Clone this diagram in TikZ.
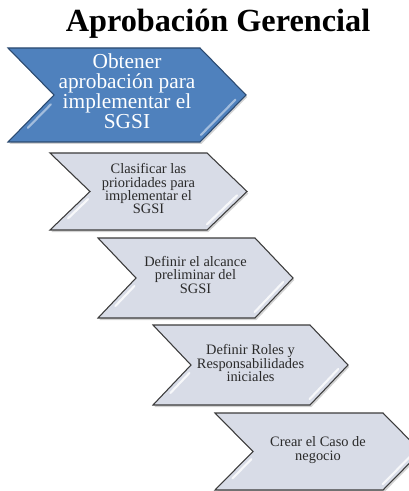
\documentclass[tikz,border=0pt]{standalone}
\usepackage{fontspec}
\setmainfont{Liberation Serif}
\usetikzlibrary{shadows,calc}
\definecolor{chevblue}{HTML}{4F81BD}
\definecolor{chevblueline}{HTML}{2B4A70}
\definecolor{chevgray}{HTML}{D8DCE7}
\definecolor{chevgrayline}{HTML}{3C3C3C}
\definecolor{chevtext}{HTML}{2A2A2A}
\begin{document}
\begin{tikzpicture}[x=0.75pt,y=-0.75pt,line join=miter,
    chev/.style={line width=0.8pt,drop shadow={shadow xshift=1pt,shadow yshift=-1.5pt,opacity=0.35}},
    chevlabel/.style={align=center,inner sep=0pt,text=chevtext,font=\fontsize{10.8}{10}\selectfont},
    gloss/.style={white,line width=1.6pt,line cap=round,opacity=0.8}]
	\useasboundingbox (0,0) rectangle (409,491);
	\clip (0,0) rectangle (409,491);
	\node[font=\fontsize{24.2}{26}\selectfont\bfseries] (titulo) at (218,24) {Aprobación Gerencial};
	% primer paso, en azul
	\draw[chev,fill=chevblue,draw=chevblueline] (8,48) -- (200,48) -- (246,95) -- (200,142) -- (8,142) -- (54,95) -- cycle;
	\draw[gloss,draw=chevblue!40!white] ($(54,95)!.2!(8,142)+(6,0)$) -- ($(54,95)!.7!(8,142)+(6,0)$);
	\draw[gloss,draw=chevblue!40!white] ($(246,95)!.1!(200,142)+(-6,0)$) -- ($(246,95)!.85!(200,142)+(-6,0)$);
	\node[chevlabel,text=white,font=\fontsize{16}{15}\selectfont] (paso1) at (127,91) {Obtener\\aprobación para\\implementar el\\SGSI};
	% pasos siguientes
	\foreach \l/\t/\b/\r/\d/\ty/\n/\txt [evaluate=\b as \m using (\t+\b)/2] in {
	    50/153/230/207/40/189/2/{Clasificar las\\prioridades para\\implementar el\\SGSI},
	    98/238/318/255/38/275/3/{Definir el alcance\\preliminar del\\SGSI},
	    153/325/405/310/38/363/4/{Definir Roles y\\Responsabilidades\\iniciales},
	    215/413/490/383/38/450/5/{Crear el Caso de\\negocio}}
	{
	  \draw[chev,fill=chevgray,draw=chevgrayline] (\l,\t) -- (\r,\t) -- (\r+\d,\m) -- (\r,\b) -- (\l,\b) -- (\l+\d,\m) -- cycle;
	  \draw[gloss] ($(\l+\d,\m)!.2!(\l,\b)+(6,0)$) -- ($(\l+\d,\m)!.7!(\l,\b)+(6,0)$);
	  \draw[gloss] ($(\r+\d,\m)!.1!(\r,\b)+(-6,0)$) -- ($(\r+\d,\m)!.85!(\r,\b)+(-6,0)$);
	  \node[chevlabel] (paso\n) at ({(\l+\r+\d)/2},\ty) {\txt};
	}
\end{tikzpicture}
\end{document}
